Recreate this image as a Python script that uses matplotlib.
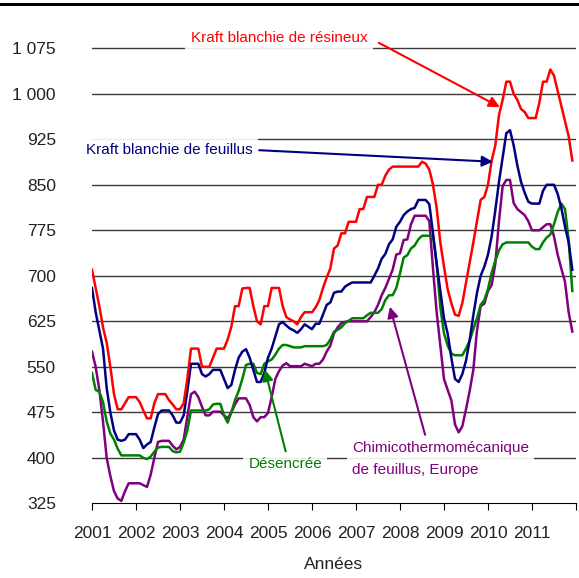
import matplotlib
matplotlib.use("Agg")
import matplotlib.pyplot as plt
import numpy as np

plt.rcParams['font.family'] = ['Liberation Sans Narrow', 'Liberation Sans', 'DejaVu Sans']

# Monthly prices, Jan 2001 - Dec 2011 (one row per year)
resineux = [
    710, 680, 650, 615, 590, 550, 505, 480, 480, 490, 500, 500,
    500, 492, 478, 465, 465, 490, 505, 505, 505, 495, 488, 480,
    480, 490, 530, 580, 580, 580, 550, 550, 550, 565, 580, 580,
    580, 595, 616, 650, 650, 679, 680, 680, 650, 625, 620, 650,
    650, 680, 680, 680, 650, 632, 628, 625, 620, 632, 640, 640,
    640, 648, 660, 680, 697, 712, 745, 750, 770, 770, 789, 789,
    789, 810, 810, 830, 830, 830, 850, 850, 865, 875, 880, 880,
    880, 880, 880, 880, 880, 880, 888, 885, 875, 850, 812, 755,
    715, 678, 655, 636, 634, 655, 688, 722, 755, 790, 825, 830,
    850, 890, 915, 965, 990, 1020, 1020, 1000, 990, 975, 970, 960,
    960, 960, 985, 1020, 1020, 1040, 1030, 1005, 980, 955, 930, 890,
]
feuillus = [
    680, 640, 610, 580, 515, 475, 445, 430, 428, 430, 439, 439,
    439, 430, 416, 422, 426, 450, 472, 478, 478, 478, 470, 458,
    458, 470, 510, 555, 555, 555, 538, 534, 538, 545, 545, 545,
    530, 515, 520, 545, 565, 575, 579, 565, 545, 525, 525, 540,
    565, 580, 600, 620, 624, 618, 613, 610, 606, 612, 620, 616,
    612, 621, 621, 636, 652, 656, 672, 674, 674, 682, 686, 689,
    689, 689, 689, 689, 689, 700, 712, 728, 736, 752, 760, 781,
    789, 800, 806, 810, 812, 825, 825, 825, 818, 770, 720, 675,
    630, 605, 565, 530, 525, 538, 560, 594, 635, 672, 700, 715,
    735, 765, 808, 855, 895, 935, 940, 915, 882, 855, 837, 822,
    819, 819, 819, 840, 850, 850, 850, 835, 812, 781, 755, 710,
]
desencree = [
    540, 512, 509, 492, 460, 440, 430, 415, 404, 404, 404, 404,
    404, 404, 400, 398, 402, 410, 417, 418, 418, 418, 411, 409,
    410, 425, 445, 478, 478, 478, 478, 478, 480, 488, 489, 489,
    470, 458, 475, 495, 510, 530, 553, 555, 555, 540, 538, 555,
    559, 562, 570, 580, 586, 586, 584, 582, 582, 582, 584, 584,
    584, 584, 584, 584, 586, 595, 608, 611, 615, 622, 626, 630,
    630, 630, 630, 635, 639, 639, 639, 645, 660, 668, 668, 680,
    704, 730, 734, 745, 750, 760, 766, 766, 766, 766, 720, 648,
    605, 585, 572, 569, 569, 569, 580, 593, 612, 630, 652, 660,
    678, 705, 725, 742, 752, 755, 755, 755, 755, 755, 755, 755,
    748, 744, 744, 755, 763, 768, 785, 805, 819, 810, 759, 675,
]
ctmp = [
    575, 550, 512, 460, 400, 370, 345, 333, 329, 345, 358, 358,
    358, 358, 355, 352, 372, 400, 426, 428, 428, 428, 420, 414,
    418, 430, 468, 505, 509, 500, 484, 470, 470, 476, 476, 476,
    470, 465, 475, 488, 498, 498, 498, 487, 467, 460, 467, 467,
    474, 500, 530, 543, 552, 556, 551, 551, 551, 551, 555, 553,
    551, 555, 555, 562, 575, 585, 605, 615, 622, 624, 625, 625,
    625, 625, 625, 625, 632, 640, 652, 668, 680, 695, 710, 735,
    737, 759, 760, 785, 799, 799, 799, 799, 790, 712, 640, 585,
    530, 512, 495, 455, 442, 452, 480, 510, 545, 610, 650, 654,
    675, 685, 720, 790, 848, 858, 858, 820, 810, 805, 800, 790,
    775, 775, 775, 780, 785, 785, 765, 735, 712, 690, 640, 608,
]
years = list(range(2001, 2012))
y_ticks = [325, 400, 475, 550, 625, 700, 775, 850, 925, 1000, 1075]

t = 2001 + np.arange(len(resineux)) / 12

fig = plt.figure(figsize=(5.79, 5.78), dpi=100)
ax = fig.add_axes([0.1589, 0.1292, 0.8359, 0.8345])

red, navy, green, purple = '#ff0000', '#000080', '#008000', '#800080'

ax.plot(t, ctmp, color=purple, lw=1.8)
ax.plot(t, desencree, color=green, lw=1.8)
ax.plot(t, feuillus, color=navy, lw=1.8)
ax.plot(t, resineux, color=red, lw=1.8)

ax.set_xlim(2001, 2012)
ax.set_ylim(325, 1120)
ax.set_yticks(y_ticks)
ax.set_yticklabels([f"{v:,}".replace(',', ' ') for v in y_ticks])
ax.set_xticks(list(range(2001, 2013)))
ax.set_xticklabels([str(y) for y in years] + [''])

for v in y_ticks[1:]:
    ax.axhline(v, color='#3a3a3a', lw=1, zorder=0)

for s in ['top', 'right', 'left']:
    ax.spines[s].set_visible(False)
ax.spines['bottom'].set_color('black')
ax.tick_params(axis='y', length=0, pad=26, labelsize=12.5, labelcolor='#222222')
ax.tick_params(axis='x', length=5, direction='out', pad=11, labelsize=12.5, labelcolor='#222222')
ax.set_xlabel("Années", fontsize=12.5, labelpad=12, color='#222222')

box = dict(boxstyle='square,pad=0.35', fc='white', ec='none', alpha=0.9)
arrow = dict(arrowstyle='-|>', lw=1.5, mutation_scale=16, shrinkA=0, shrinkB=0)

ax.text(2005.25, 1092, "Kraft blanchie de résineux", color=red, fontsize=11,
        ha='center', va='center', bbox=box, zorder=5)
ax.annotate('', xy=(2010.27, 978), xytext=(2007.52, 1084),
            arrowprops=dict(arrow, color=red), annotation_clip=False)

ax.text(2002.75, 907, "Kraft blanchie de feuillus", color=navy, fontsize=11,
        ha='center', va='center', bbox=box, zorder=5)
ax.annotate('', xy=(2010.11, 888), xytext=(2004.8, 907),
            arrowprops=dict(arrow, color=navy))

ax.text(2005.39, 390, "Désencrée", color=green, fontsize=11,
        ha='center', va='center', bbox=box, zorder=5)
ax.annotate('', xy=(2004.93, 545), xytext=(2005.41, 408),
            arrowprops=dict(arrow, color=green))

ax.text(2006.91, 398, "Chimicothermomécanique\nde feuillus, Europe", color=purple,
        fontsize=11, ha='left', va='center', linespacing=1.7, bbox=box, zorder=5)
ax.annotate('', xy=(2007.77, 649), xytext=(2008.57, 438),
            arrowprops=dict(arrow, color=purple))

# thick rule across the top of the figure
fig.add_artist(plt.Rectangle((0, 1 - 6 / 578), 1, 3 / 578, transform=fig.transFigure,
                             color='black', lw=0))

fig.savefig('out.png', dpi=100)
